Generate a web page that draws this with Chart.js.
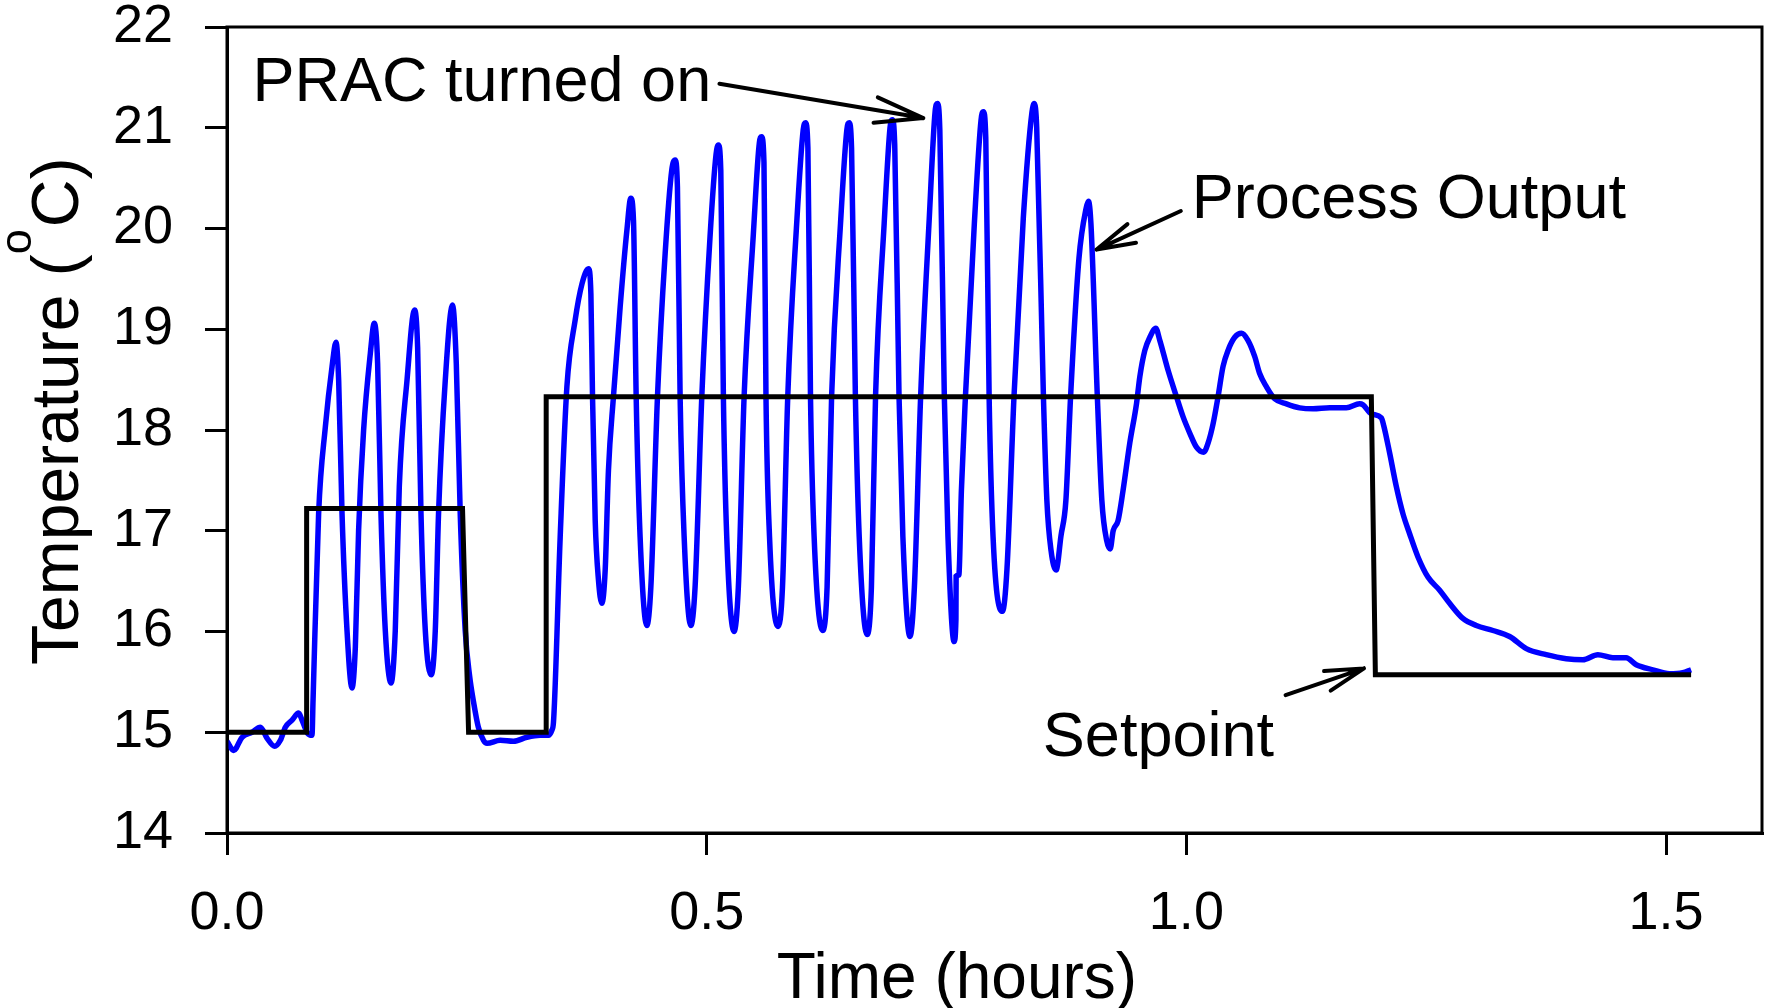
<!DOCTYPE html>
<html>
<head>
<meta charset="utf-8">
<script src="https://cdn.jsdelivr.net/npm/chart.js@4.4.1/dist/chart.umd.min.js"></script>
<style>
  html, body { margin: 0; padding: 0; background: #fff; }
  #wrap { width: 1768px; height: 1008px; }
</style>
</head>
<body>
<div id="wrap"><canvas id="tempChart" width="1768" height="1008"></canvas></div>
<script>
// process output (blue), time in hours / temperature in degC
const outTime = [
  0.0000, 0.0070, 0.0157, 0.0260, 0.0348, 0.0418, 0.0497, 0.0556, 0.0608, 0.0678,
  0.0747, 0.0782, 0.0840, 0.0886, 0.0897, 0.0955, 0.1025, 0.1095, 0.1136, 0.1164,
  0.1199, 0.1251, 0.1303, 0.1338, 0.1372, 0.1424, 0.1494, 0.1535, 0.1570, 0.1605,
  0.1650, 0.1710, 0.1754, 0.1796, 0.1876, 0.1955, 0.1987, 0.2022, 0.2067, 0.2129,
  0.2171, 0.2205, 0.2275, 0.2351, 0.2390, 0.2431, 0.2483, 0.2530, 0.2570, 0.2620,
  0.2674, 0.2710, 0.2848, 0.2986, 0.3126, 0.3265, 0.3350, 0.3386, 0.3403, 0.3473,
  0.3543, 0.3629, 0.3700, 0.3768, 0.3793, 0.3810, 0.3838, 0.3872, 0.3907, 0.3942,
  0.3976, 0.4028, 0.4098, 0.4168, 0.4209, 0.4237, 0.4265, 0.4306, 0.4376, 0.4418,
  0.4487, 0.4567, 0.4636, 0.4671, 0.4695, 0.4723, 0.4765, 0.4834, 0.4879, 0.4949,
  0.5035, 0.5098, 0.5122, 0.5147, 0.5174, 0.5209, 0.5285, 0.5330, 0.5390, 0.5486,
  0.5549, 0.5572, 0.5597, 0.5618, 0.5655, 0.5744, 0.5790, 0.5845, 0.5935, 0.6006,
  0.6030, 0.6055, 0.6082, 0.6120, 0.6209, 0.6255, 0.6302, 0.6395, 0.6461, 0.6485,
  0.6510, 0.6550, 0.6590, 0.6672, 0.6717, 0.6760, 0.6850, 0.6911, 0.6935, 0.6960,
  0.7005, 0.7045, 0.7119, 0.7165, 0.7230, 0.7320, 0.7381, 0.7405, 0.7430, 0.7477,
  0.7515, 0.7579, 0.7598, 0.7600, 0.7628, 0.7655, 0.7697, 0.7790, 0.7860, 0.7884,
  0.7909, 0.7944, 0.7985, 0.8083, 0.8130, 0.8203, 0.8300, 0.8390, 0.8415, 0.8440,
  0.8510, 0.8546, 0.8590, 0.8642, 0.8693, 0.8744, 0.8793, 0.8880, 0.8955, 0.8980,
  0.9005, 0.9072, 0.9119, 0.9170, 0.9206, 0.9237, 0.9288, 0.9340, 0.9410, 0.9480,
  0.9515, 0.9567, 0.9619, 0.9681, 0.9723, 0.9810, 0.9897, 0.9966, 1.0035, 1.0105,
  1.0181, 1.0226, 1.0278, 1.0330, 1.0382, 1.0434, 1.0504, 1.0574, 1.0642, 1.0712,
  1.0764, 1.0834, 1.0921, 1.1043, 1.1181, 1.1320, 1.1494, 1.1668, 1.1806, 1.1840,
  1.1928, 1.2032, 1.2058, 1.2119, 1.2188, 1.2257, 1.2327, 1.2414, 1.2518, 1.2640,
  1.2744, 1.2882, 1.3022, 1.3195, 1.3369, 1.3543, 1.3751, 1.3960, 1.4133, 1.4289,
  1.4445, 1.4584, 1.4689, 1.4861, 1.5035, 1.5174, 1.5261
];
const outTemp = [
  14.91, 14.82, 14.95, 15.00, 15.05, 14.94, 14.86, 14.92, 15.05, 15.12,
  15.19, 15.12, 14.99, 14.97, 15.32, 17.17, 18.03, 18.63, 18.87, 18.49,
  17.17, 16.01, 15.44, 15.85, 17.01, 18.00, 18.76, 19.06, 18.66, 17.17,
  16.01, 15.49, 16.01, 17.44, 18.49, 19.19, 18.82, 17.17, 16.01, 15.57,
  16.01, 17.17, 18.49, 19.24, 18.66, 17.17, 16.01, 15.55, 15.30, 15.05,
  14.92, 14.89, 14.92, 14.91, 14.95, 14.97, 14.97, 15.02, 15.10, 16.94,
  18.43, 19.09, 19.45, 19.60, 19.35, 18.33, 17.10, 16.51, 16.28, 16.61,
  17.60, 18.33, 19.22, 19.98, 20.30, 20.08, 18.33, 16.94, 16.06, 16.44,
  18.33, 19.75, 20.58, 20.68, 20.41, 18.33, 16.94, 16.06, 16.44, 18.33,
  19.92, 20.74, 20.83, 20.58, 18.33, 16.94, 16.00, 16.44, 18.33, 19.94,
  20.85, 20.91, 20.66, 18.33, 16.94, 16.05, 16.44, 18.33, 20.00, 20.98,
  21.05, 20.80, 18.33, 16.94, 16.01, 16.44, 18.33, 20.05, 20.98, 21.05,
  20.80, 18.33, 16.94, 15.97, 16.44, 18.33, 20.05, 21.00, 21.08, 20.83,
  18.33, 16.94, 15.95, 16.44, 18.33, 20.10, 21.16, 21.24, 20.98, 18.33,
  16.94, 15.90, 16.12, 16.55, 16.56, 17.40, 18.33, 20.05, 21.08, 21.16,
  20.90, 18.33, 16.94, 16.20, 16.62, 18.33, 20.10, 21.15, 21.24, 21.00,
  18.33, 17.30, 16.80, 16.61, 16.95, 17.30, 18.33, 19.70, 20.20, 20.27,
  20.05, 18.33, 17.30, 16.90, 16.82, 17.00, 17.10, 17.40, 17.87, 18.26,
  18.53, 18.79, 18.92, 19.01, 18.89, 18.59, 18.33, 18.13, 17.97, 17.83,
  17.78, 17.87, 18.06, 18.33, 18.63, 18.79, 18.92, 18.96, 18.89, 18.73,
  18.56, 18.43, 18.31, 18.26, 18.22, 18.21, 18.22, 18.22, 18.26, 18.25,
  18.16, 18.12, 18.04, 17.77, 17.44, 17.17, 16.97, 16.74, 16.54, 16.41,
  16.28, 16.13, 16.06, 16.01, 15.95, 15.83, 15.77, 15.73, 15.72, 15.77,
  15.74, 15.74, 15.67, 15.62, 15.58, 15.59, 15.62
];

// setpoint (black step line)
const spTime = [0, 0.083, 0.083, 0.2455, 0.2518, 0.3327, 0.3327, 1.1928, 1.1970, 1.5261];
const spTemp = [15.0, 15.0, 17.22, 17.22, 15.0, 15.0, 18.33, 18.33, 15.57, 15.57];

const xTicks = [0, 0.5, 1.0, 1.5];
const yTicks = [14, 15, 16, 17, 18, 19, 20, 21, 22];

// annotations, in data units (text baseline-left, arrows start -> tip)
const noteText = ['PRAC turned on', 'Process Output', 'Setpoint'];
const noteX = [0.0265, 1.0056, 0.8504];
const noteY = [21.27, 20.10, 14.765];
const arrowX0 = [0.5133, 0.9942, 1.1034];
const arrowY0 = [21.437, 20.174, 15.369];
const arrowX1 = [0.7258, 0.9064, 1.1851];
const arrowY1 = [21.096, 19.791, 15.634];
const arrowHead = [50, 40, 40];

const FONT = "'Liberation Sans', Arial, sans-serif";
Chart.defaults.font.family = FONT;
Chart.defaults.color = '#000';

const extras = {
  id: 'extras',
  afterDraw(chart) {
    const { ctx, chartArea: a, scales: { x, y } } = chart;
    ctx.save();

    // box round the plot
    ctx.strokeStyle = '#000';
    ctx.lineWidth = 3;
    ctx.strokeRect(a.left, a.top, a.right - a.left, a.bottom - a.top);

    // labels
    ctx.fillStyle = '#000';
    ctx.font = '63px ' + FONT;
    ctx.textAlign = 'left';
    ctx.textBaseline = 'alphabetic';
    noteText.forEach((t, i) => {
      ctx.fillText(t, x.getPixelForValue(noteX[i]), y.getPixelForValue(noteY[i]));
    });

    // arrows
    ctx.lineWidth = 4;
    ctx.lineCap = 'round';
    arrowX0.forEach((_, i) => {
      const x0 = x.getPixelForValue(arrowX0[i]), y0 = y.getPixelForValue(arrowY0[i]);
      const x1 = x.getPixelForValue(arrowX1[i]), y1 = y.getPixelForValue(arrowY1[i]);
      const ang = Math.atan2(y0 - y1, x0 - x1);
      ctx.beginPath();
      ctx.moveTo(x0, y0);
      ctx.lineTo(x1, y1);
      [-1, 1].forEach(s => {
        ctx.moveTo(x1, y1);
        ctx.lineTo(x1 + arrowHead[i] * Math.cos(ang + s * 0.26), y1 + arrowHead[i] * Math.sin(ang + s * 0.26));
      });
      ctx.stroke();
    });

    // axis titles
    ctx.font = '64px ' + FONT;
    ctx.textAlign = 'center';
    ctx.fillText('Time (hours)', 957, 998);

    ctx.translate(78, 665);
    ctx.rotate(-Math.PI / 2);
    ctx.textAlign = 'left';
    ctx.font = '66px ' + FONT;
    const part1 = 'Temperature (';
    ctx.fillText(part1, 0, 0);
    let w = ctx.measureText(part1).width;
    ctx.font = '45px ' + FONT;
    ctx.fillText('o', w, -47);
    w += ctx.measureText('o').width + 2;
    ctx.font = '66px ' + FONT;
    ctx.fillText('C)', w, 0);

    ctx.restore();
  }
};

new Chart(document.getElementById('tempChart'), {
  type: 'line',
  data: {
    datasets: [
      {
        label: 'Setpoint',
        data: spTime.map((t, i) => ({ x: t, y: spTemp[i] })),
        borderColor: '#000',
        borderWidth: 5,
        pointRadius: 0,
        tension: 0,
        order: 0
      },
      {
        label: 'Process Output',
        data: outTime.map((t, i) => ({ x: t, y: outTemp[i] })),
        borderColor: '#0000ff',
        borderWidth: 5.5,
        pointRadius: 0,
        cubicInterpolationMode: 'monotone',
        order: 1
      }
    ]
  },
  options: {
    responsive: false,
    animation: false,
    layout: { padding: { top: 27, right: 6, left: 0, bottom: 0 } },
    plugins: { legend: { display: false }, tooltip: { enabled: false } },
    scales: {
      x: {
        type: 'linear',
        min: 0,
        max: 1.6,
        afterBuildTicks: s => { s.ticks = xTicks.map(v => ({ value: v })); },
        afterFit: s => { s.height = 175; s.paddingLeft = 0; s.paddingRight = 0; },
        ticks: { callback: v => v.toFixed(1), font: { size: 54 }, padding: 27, maxRotation: 0, autoSkip: false },
        grid: { drawOnChartArea: false, tickLength: 22, color: '#000', lineWidth: 3 },
        border: { color: '#000', width: 3 }
      },
      y: {
        min: 14,
        max: 22,
        afterBuildTicks: s => { s.ticks = yTicks.map(v => ({ value: v })); },
        afterFit: s => { s.width = 227; s.paddingTop = 0; s.paddingBottom = 0; },
        ticks: { font: { size: 54 }, padding: 32, autoSkip: false },
        grid: { drawOnChartArea: false, tickLength: 22, color: '#000', lineWidth: 3 },
        border: { color: '#000', width: 3 }
      }
    }
  },
  plugins: [extras]
});
</script>
</body>
</html>
